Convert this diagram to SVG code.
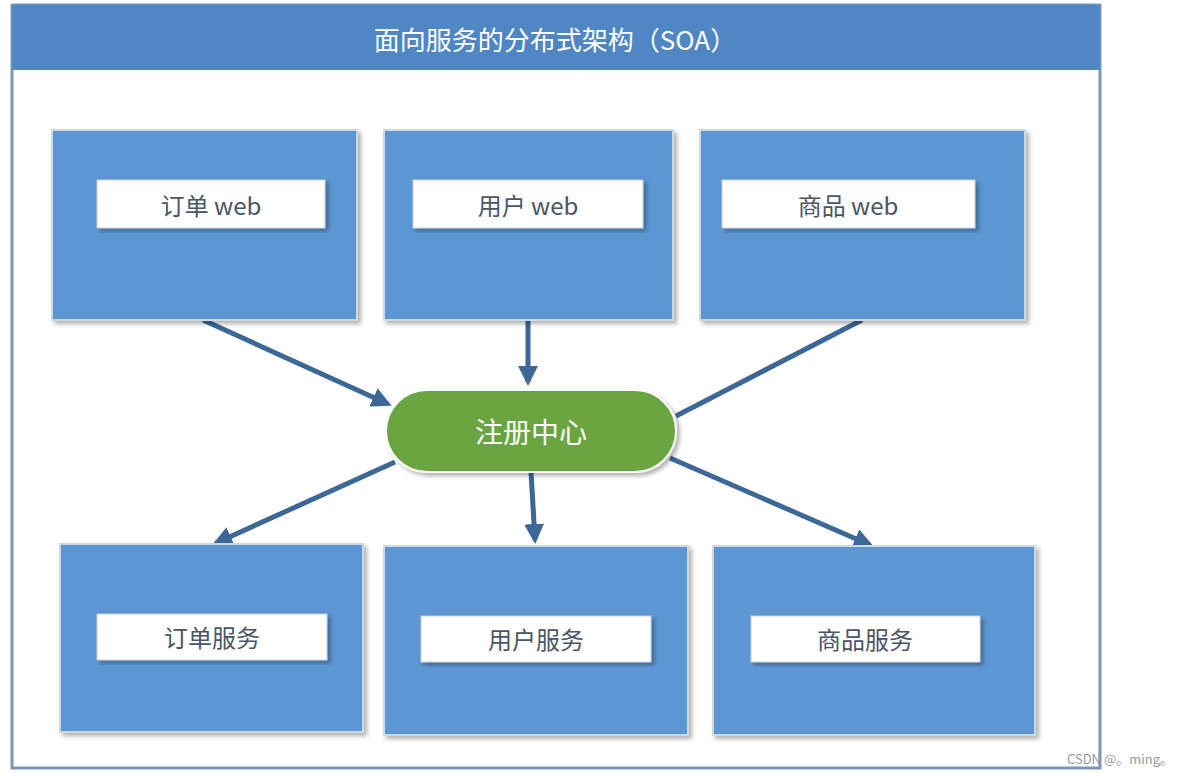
<svg xmlns="http://www.w3.org/2000/svg" width="1191" height="780" viewBox="0 0 1191 780">
<defs>
<style>
.box{fill:#5b97d3;stroke:#d0d8e0;stroke-width:2}
.lbl{fill:#ffffff;stroke:#c8cfd8;stroke-width:1}
.t{font-family:"Noto Sans CJK SC","Liberation Sans",sans-serif;font-size:24px;fill:#4a5566;text-anchor:middle;dominant-baseline:central}
.c{stroke:#3d6796;stroke-width:5;fill:none}
</style>
<marker id="ah" viewBox="0 0 10 10" refX="8" refY="5" markerWidth="4" markerHeight="4" orient="auto"><path d="M0,0 L10,5 L0,10 z" fill="#3d6796"/></marker>
<filter id="sh"><feDropShadow dx="3" dy="3" stdDeviation="2" flood-opacity="0.3"/></filter>
</defs>
<rect width="1191" height="780" fill="#ffffff"/>
<g id="frame">
<rect x="12" y="5" width="1088" height="763" fill="#ffffff" stroke="#7a95b8" stroke-width="3"/>
<rect x="12" y="5" width="1088" height="65" fill="#4f86c4"/>
<text x="555" y="38" class="t" style="fill:#ffffff;font-size:26px">面向服务的分布式架构（SOA）</text>
</g>
<g id="connectors">
<line class="c" x1="203" y1="320" x2="388" y2="404" marker-end="url(#ah)"/>
<line class="c" x1="528" y1="320" x2="528" y2="382" marker-end="url(#ah)"/>
<line class="c" x1="862" y1="320" x2="676" y2="416"/>
<line class="c" x1="395" y1="462" x2="216" y2="543" marker-end="url(#ah)"/>
<line class="c" x1="531" y1="472" x2="535" y2="540" marker-end="url(#ah)"/>
<line class="c" x1="670" y1="458" x2="870" y2="545" marker-end="url(#ah)"/>
</g>
<g id="n1"><rect class="box" x="52" y="130" width="305" height="190" filter="url(#sh)"/><rect class="lbl" x="97" y="180" width="228" height="48" filter="url(#sh)"/><text class="t" x="211" y="204">订单 web</text></g>
<g id="n2"><rect class="box" x="384" y="130" width="289" height="190" filter="url(#sh)"/><rect class="lbl" x="413" y="180" width="230" height="48" filter="url(#sh)"/><text class="t" x="528" y="204">用户 web</text></g>
<g id="n3"><rect class="box" x="700" y="130" width="325" height="190" filter="url(#sh)"/><rect class="lbl" x="722" y="180" width="253" height="48" filter="url(#sh)"/><text class="t" x="848" y="204">商品 web</text></g>
<g id="reg"><rect x="386" y="390" width="290" height="82" rx="41" fill="#6ba543" stroke="#ffffff" stroke-width="2" filter="url(#sh)"/><text class="t" x="531" y="431" style="fill:#ffffff;font-size:28px">注册中心</text></g>
<g id="n4"><rect class="box" x="60" y="544" width="303" height="188" filter="url(#sh)"/><rect class="lbl" x="97" y="614" width="230" height="46" filter="url(#sh)"/><text class="t" x="212" y="636">订单服务</text></g>
<g id="n5"><rect class="box" x="384" y="546" width="304" height="189" filter="url(#sh)"/><rect class="lbl" x="421" y="616" width="230" height="46" filter="url(#sh)"/><text class="t" x="536" y="638">用户服务</text></g>
<g id="n6"><rect class="box" x="713" y="546" width="322" height="189" filter="url(#sh)"/><rect class="lbl" x="751" y="616" width="229" height="46" filter="url(#sh)"/><text class="t" x="865" y="638">商品服务</text></g>
<text x="1120" y="764" style="font-family:'Noto Sans CJK SC','Liberation Sans',sans-serif;font-size:13px;fill:#999" text-anchor="middle">CSDN @。ming。</text>
</svg>
